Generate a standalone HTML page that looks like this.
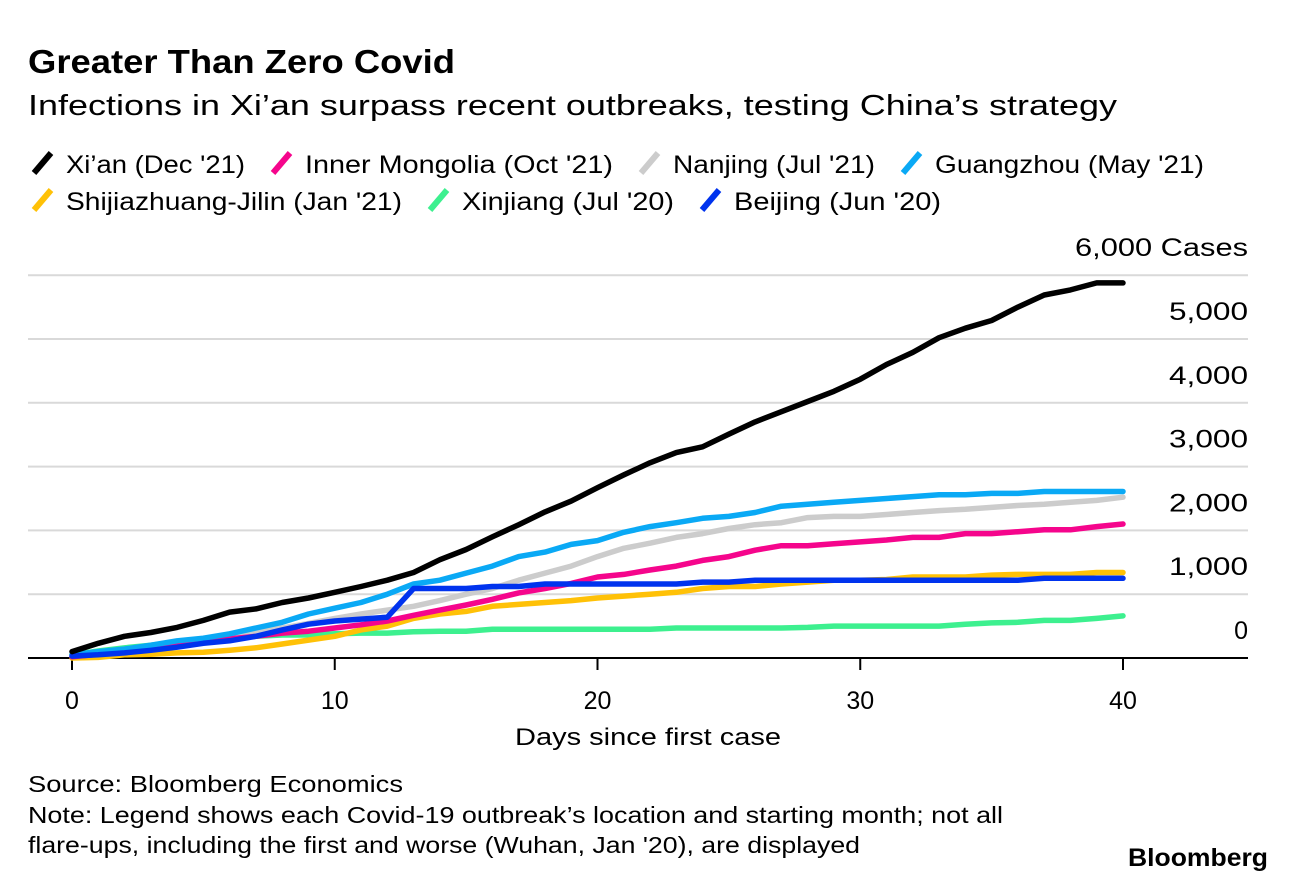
<!DOCTYPE html>
<html><head><meta charset="utf-8"><style>
html,body{margin:0;padding:0;background:#fff;}
body{width:1296px;height:884px;overflow:hidden;font-family:"Liberation Sans",sans-serif;}
svg text{font-family:"Liberation Sans",sans-serif;}
</style></head><body>
<svg id="chart" width="1296" height="884" xmlns="http://www.w3.org/2000/svg">
<text x="28" y="73" font-size="33" font-weight="bold" fill="#000" textLength="427" lengthAdjust="spacingAndGlyphs">Greater Than Zero Covid</text>
<text x="28" y="115" font-size="29" fill="#000" textLength="1089" lengthAdjust="spacingAndGlyphs">Infections in Xi’an surpass recent outbreaks, testing China’s strategy</text>
<g id="legend"></g>
<g id="grid"></g>
<g id="yaxis"></g>
<g id="xaxis"></g>
<g id="series"></g>
<text x="515" y="745" font-size="24" textLength="266" lengthAdjust="spacingAndGlyphs">Days since first case</text>
<text x="28" y="792" font-size="23" textLength="375" lengthAdjust="spacingAndGlyphs">Source: Bloomberg Economics</text>
<text x="28" y="823" font-size="23" textLength="975" lengthAdjust="spacingAndGlyphs">Note: Legend shows each Covid-19 outbreak’s location and starting month; not all</text>
<text x="28" y="853" font-size="23" textLength="832" lengthAdjust="spacingAndGlyphs">flare-ups, including the first and worse (Wuhan, Jan '20), are displayed</text>
<text x="1128" y="866" font-size="25" font-weight="bold" textLength="140" lengthAdjust="spacingAndGlyphs">Bloomberg</text>
</svg>
<script>
const yTicks=[0,1000,2000,3000,4000,5000,6000];
const yTickLabels=["0","1,000","2,000","3,000","4,000","5,000","6,000 Cases"];
const xTicks=[0,10,20,30,40];
const seriesNames=["Xi’an (Dec '21)","Inner Mongolia (Oct '21)","Nanjing (Jul '21)","Guangzhou (May '21)","Shijiazhuang-Jilin (Jan '21)","Xinjiang (Jul '20)","Beijing (Jun '20)"];
const xian=[100,230,340,400,480,590,720,770,870,940,1030,1120,1220,1340,1540,1700,1900,2090,2290,2460,2670,2870,3060,3220,3310,3510,3700,3860,4020,4180,4370,4600,4790,5020,5170,5290,5500,5690,5770,5880,5880];
const innerMongolia=[20,60,110,160,200,250,300,340,390,420,470,520,580,670,750,830,920,1020,1090,1170,1270,1310,1380,1440,1530,1590,1690,1760,1760,1790,1820,1850,1890,1890,1950,1950,1980,2010,2010,2060,2100];
const nanjing=[30,70,120,170,220,280,340,400,470,540,620,690,750,810,900,1000,1090,1220,1330,1440,1590,1720,1800,1890,1950,2030,2090,2120,2200,2220,2220,2250,2280,2310,2330,2360,2390,2410,2440,2470,2520];
const guangzhou=[50,100,140,200,270,310,380,470,560,690,780,870,1000,1160,1220,1330,1440,1590,1660,1780,1840,1970,2060,2120,2190,2220,2280,2380,2410,2440,2470,2500,2530,2560,2560,2580,2580,2610,2610,2610,2610];
const shijiazhuang=[0,10,50,60,80,90,120,160,220,280,340,440,500,620,690,730,810,840,870,900,940,970,1000,1030,1090,1120,1120,1160,1190,1220,1220,1230,1270,1270,1270,1300,1310,1310,1310,1340,1340];
const xinjiang=[50,110,160,200,250,300,330,340,360,360,380,390,390,410,420,420,450,450,450,450,450,450,450,470,470,470,470,470,480,500,500,500,500,500,530,550,560,590,590,620,660];
const beijing=[30,50,80,120,170,230,270,340,440,530,580,610,640,1090,1090,1090,1120,1120,1160,1160,1160,1160,1160,1160,1190,1190,1220,1220,1220,1220,1220,1220,1220,1220,1220,1220,1220,1250,1250,1250,1250];
const seriesData=[xian,innerMongolia,nanjing,guangzhou,shijiazhuang,xinjiang,beijing];
const colors=["#000000","#f5058c","#cccccc","#0aa9f5","#ffc107","#3df08f","#0033ee"];
const seriesKeys=["xian","inner-mongolia","nanjing","guangzhou","shijiazhuang-jilin","xinjiang","beijing"];
const NS="http://www.w3.org/2000/svg";
const x=d=>72+d*(1123-72)/40;
const y=v=>658-v*0.0638;
function mk(tag,attrs,parent){const e=document.createElementNS(NS,tag);for(const k in attrs)e.setAttribute(k,attrs[k]);parent.appendChild(e);return e;}
const grid=document.getElementById('grid'),ya=document.getElementById('yaxis'),xa=document.getElementById('xaxis'),ser=document.getElementById('series'),leg=document.getElementById('legend');
yTicks.forEach((t,i)=>{
 if(t>0){const l=mk('line',{x1:28,x2:1248,y1:y(t),y2:y(t),stroke:'#d9d9d9','stroke-width':2},grid);
 
 }
 const attrs={x:1248,y:y(t)-19,'font-size':25,'text-anchor':'end'};
 if(i===yTicks.length-1){attrs.textLength=173;attrs.lengthAdjust='spacingAndGlyphs';}
 else if(t>0){attrs.textLength=79;attrs.lengthAdjust='spacingAndGlyphs';}
 const tx=mk('text',attrs,ya);tx.textContent=yTickLabels[i];
 
 
});
const ax=mk('line',{x1:28,x2:1248,y1:658,y2:658,stroke:'#000','stroke-width':2},xa);


xTicks.forEach(t=>{
 const tk=mk('line',{x1:x(t),x2:x(t),y1:658,y2:670,stroke:'#000','stroke-width':2},xa);
 
 
 const tx=mk('text',{x:x(t),y:709,'font-size':25,'text-anchor':'middle'},xa);tx.textContent=t;
 
 
});
const order=[5,4,2,1,3,6,0];
order.forEach(i=>{
 const d=seriesData[i].map((v,j)=>(j?'L':'M')+x(j).toFixed(1)+','+y(v).toFixed(1)).join('');
 const p=mk('path',{d:d,fill:'none',stroke:colors[i],'stroke-width':5.5,'stroke-linejoin':'round','stroke-linecap':'round'},ser);
 
 
});
const legPos=[[31,163],[270,163],[638,163],[900,163],[31,200],[427,200],[699,200]];
const legLen=[179,308,202,269,336,212,207];
seriesNames.forEach((n,i)=>{
 const [lx,ly]=legPos[i];
 const g=mk('g',{},leg);
 
 
 mk('line',{x1:lx+3,y1:ly+10,x2:lx+20,y2:ly-10,stroke:colors[i],'stroke-width':6},g);
 const t=mk('text',{x:lx+35,y:ly+10,'font-size':25,textLength:legLen[i],lengthAdjust:'spacingAndGlyphs'},g);t.textContent=n;
});
</script>
</body></html>
